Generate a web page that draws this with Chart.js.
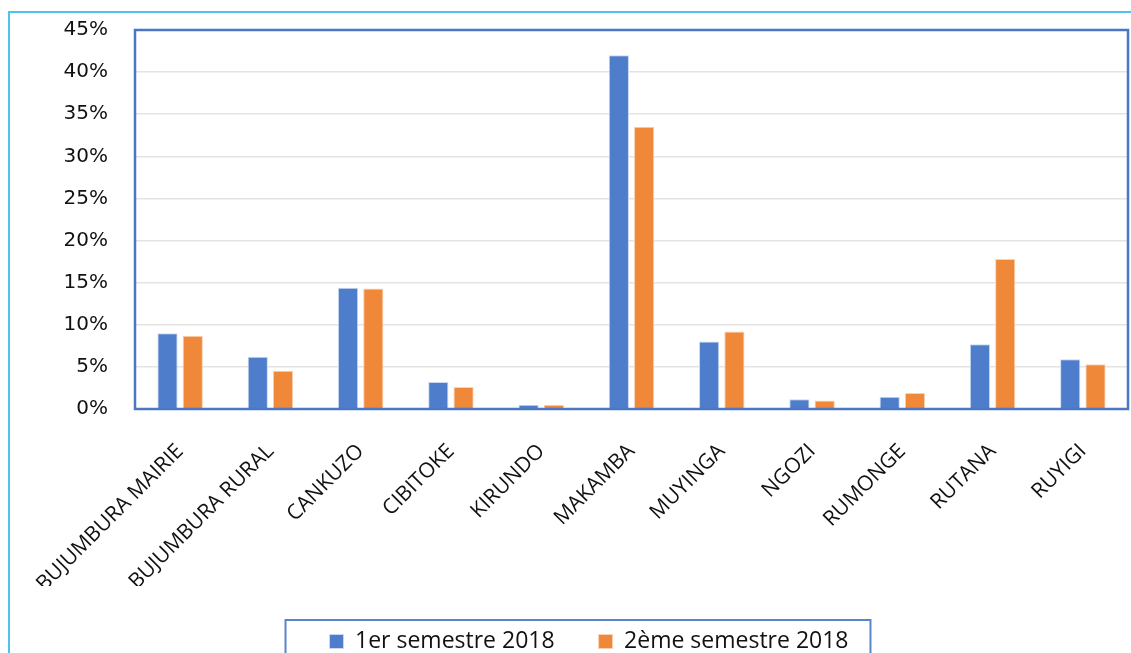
<!DOCTYPE html>
<html>
<head>
<meta charset="utf-8">
<script src="https://cdn.jsdelivr.net/npm/chart.js@4"></script>
<style>
  html, body { margin: 0; padding: 0; background: #ffffff; }
  #wrap { width: 1131px; height: 653px; position: relative; overflow: hidden; }
</style>
</head>
<body>
<div id="wrap"><canvas id="chart" width="1131" height="653"></canvas></div>
<script>
const provinces = ["BUJUMBURA MAIRIE", "BUJUMBURA RURAL", "CANKUZO", "CIBITOKE", "KIRUNDO",
    "MAKAMBA", "MUYINGA", "NGOZI", "RUMONGE", "RUTANA", "RUYIGI"];
const semestre1 = [9.0, 6.2, 14.4, 3.2, 0.5, 42.0, 8.0, 1.15, 1.45, 7.7, 5.9];
const semestre2 = [8.7, 4.55, 14.3, 2.6, 0.5, 33.5, 9.2, 1.0, 1.9, 17.8, 5.3];
const seriesNames = ["1er semestre 2018", "2ème semestre 2018"];
const yTicks = [0, 5, 10, 15, 20, 25, 30, 35, 40, 45];

// cadres : bordure externe, bordure de la zone de tracé, cadre de la légende
const framesPlugin = {
    id: "frames",
    beforeDraw(chart) {
        let ctx = chart.ctx;
        ctx.save();
        ctx.strokeStyle = "#4FC3F0";
        ctx.lineWidth = 2;
        ctx.beginPath();
        ctx.moveTo(9, 660);
        ctx.lineTo(9, 12);
        ctx.lineTo(1135, 12);
        ctx.stroke();
        ctx.restore();
    },
    afterDraw(chart) {
        let ctx = chart.ctx;
        let a = chart.chartArea;
        ctx.save();
        ctx.strokeStyle = "#4A76C6";
        ctx.lineWidth = 2.5;
        ctx.strokeRect(a.left, a.top, a.right - a.left, a.bottom - a.top);

        let lg = chart.legend;
        if (lg && lg.legendHitBoxes.length) {
            let boxes = lg.legendHitBoxes;
            let last = boxes[boxes.length - 1];
            let x0 = boxes[0].left - 44;
            let x1 = last.left + last.width + 22;
            ctx.strokeStyle = "#5A84CC";
            ctx.lineWidth = 2;
            ctx.strokeRect(x0, 620, x1 - x0, 60);
        }
        ctx.restore();
    }
};

let ctx = document.getElementById("chart").getContext("2d");

let chartInstance = new Chart(ctx, {
    type: "bar",
    data: {
        labels: provinces,
        datasets: [{
            label: seriesNames[0],
            data: semestre1,
            backgroundColor: "#4E7ECB",
            borderColor: "#C9D8F0",
            borderWidth: 1,
            categoryPercentage: 0.56,
            barPercentage: 0.8
        }, {
            label: seriesNames[1],
            data: semestre2,
            backgroundColor: "#EF8838",
            borderColor: "#F8D2B2",
            borderWidth: 1,
            categoryPercentage: 0.56,
            barPercentage: 0.8
        }]
    },
    options: {
        responsive: false,
        animation: false,
        layout: { padding: { top: 30, right: 3, left: 50, bottom: -10 } },
        scales: {
            x: {
                grid: { display: false },
                border: { display: false },
                ticks: {
                    color: "#111",
                    font: { family: "Open Sans", size: 21 },
                    minRotation: 45,
                    maxRotation: 45,
                    autoSkip: false,
                    padding: 22
                },
                afterFit(scale) {
                    scale.height = 177;
                    scale.paddingLeft = 0;
                    scale.paddingRight = 0;
                }
            },
            y: {
                min: 0,
                max: 45,
                afterBuildTicks(scale) {
                    scale.ticks = yTicks.map(v => ({ value: v }));
                },
                grid: { color: "#E3E3E3", lineWidth: 1.5, drawTicks: false },
                border: { display: false },
                ticks: {
                    color: "#111",
                    font: { family: "DejaVu Sans", size: 20 },
                    padding: 27,
                    callback: v => v + "%"
                },
                afterFit(scale) {
                    scale.width = 85;
                    scale.paddingTop = 0;
                    scale.paddingBottom = 0;
                }
            }
        },
        plugins: {
            legend: {
                position: "bottom",
                labels: {
                    color: "#111",
                    font: { family: "Open Sans", size: 23 },
                    boxWidth: 14,
                    boxHeight: 14,
                    padding: 44
                }
            },
            tooltip: { enabled: false }
        }
    },
    plugins: [framesPlugin]
});
</script>
</body>
</html>
